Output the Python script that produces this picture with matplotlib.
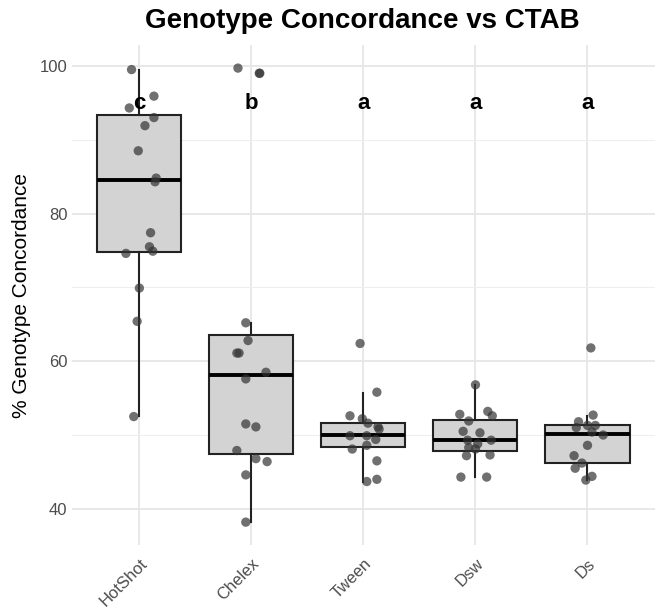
import matplotlib
matplotlib.use("Agg")
import matplotlib.pyplot as plt
import numpy as np

plt.rcParams['font.family'] = ['Liberation Sans', 'DejaVu Sans']

categories = ["HotShot", "Chelex", "Tween", "Dsw", "Ds"]
letters = ["c", "b", "a", "a", "a"]

# box statistics
q1 = [74.8, 47.4, 48.4, 47.8, 46.2]
med = [84.6, 58.1, 50.0, 49.3, 50.2]
q3 = [93.3, 63.5, 51.6, 52.1, 51.3]
whislo = [52.6, 38.2, 43.7, 44.3, 43.9]
whishi = [99.4, 65.2, 55.7, 56.8, 52.6]

# jittered observations (value, horizontal jitter offset)
hotshot_vals = [99.5, 95.9, 94.3, 93.0, 91.9, 88.5, 84.8, 84.3, 77.4, 75.5, 74.9, 74.6, 69.9, 65.4, 52.5]
hotshot_jit = [-0.07, 0.13, -0.09, 0.13, 0.05, -0.01, 0.15, 0.14, 0.10, 0.09, 0.12, -0.12, 0.0, -0.02, -0.05]
chelex_vals = [99.7, 99.0, 99.0, 65.2, 62.8, 61.1, 61.1, 58.5, 57.6, 51.5, 51.1, 47.9, 46.8, 46.4, 44.6, 38.2]
chelex_jit = [-0.12, 0.07, 0.075, -0.05, -0.03, -0.13, -0.11, 0.13, -0.05, -0.05, 0.04, -0.13, 0.04, 0.14, -0.05, -0.05]
tween_vals = [62.4, 55.8, 52.6, 52.2, 51.6, 51.1, 50.8, 49.9, 49.9, 49.4, 48.1, 48.6, 46.5, 43.7, 44.0]
tween_jit = [-0.03, 0.12, -0.12, -0.01, 0.04, 0.13, 0.14, -0.12, 0.03, 0.11, -0.10, 0.03, 0.12, 0.03, 0.12]
dsw_vals = [56.8, 52.8, 53.2, 52.6, 51.9, 50.5, 50.3, 49.3, 49.3, 48.8, 48.3, 48.1, 47.2, 47.3, 44.3, 44.3]
dsw_jit = [0.0, -0.14, 0.11, 0.15, -0.06, -0.11, 0.04, -0.07, 0.14, 0.02, -0.06, 0.0, -0.08, 0.13, -0.13, 0.10]
ds_vals = [61.8, 52.7, 51.8, 51.0, 51.3, 51.3, 50.4, 50.0, 48.6, 47.2, 46.2, 45.5, 44.4, 43.9]
ds_jit = [0.03, 0.05, -0.08, -0.10, 0.0, 0.07, 0.04, 0.14, 0.0, -0.12, -0.05, -0.11, 0.04, -0.015]

all_vals = [hotshot_vals, chelex_vals, tween_vals, dsw_vals, ds_vals]
all_jit = [hotshot_jit, chelex_jit, tween_jit, dsw_jit, ds_jit]

fig = plt.figure(figsize=(6.62, 6.11), dpi=100)
ax = fig.add_axes([0.109, 0.108, 0.880, 0.818])

positions = np.arange(1, len(categories) + 1)
stats = []
for i in range(len(categories)):
    stats.append(dict(q1=q1[i], med=med[i], q3=q3[i], whislo=whislo[i], whishi=whishi[i], fliers=[]))

ax.bxp(stats, positions=positions, widths=0.75, patch_artist=True, showfliers=False,
       showcaps=False,
       boxprops=dict(facecolor="#d3d3d3", edgecolor="#222222", linewidth=1.5),
       medianprops=dict(color="black", linewidth=2.8),
       whiskerprops=dict(color="#222222", linewidth=1.5), zorder=2)

for i, (vals, jit) in enumerate(zip(all_vals, all_jit)):
    xs = positions[i] + np.array(jit)
    ax.scatter(xs, vals, s=45, color="#333333", alpha=0.7, edgecolors="none", zorder=3)

for i, lab in enumerate(letters):
    ax.text(positions[i], 94.9, lab, ha="center", va="center", fontsize=16,
            fontweight="bold", color="black", zorder=4)

ax.set_xlim(0.4, 5.6)
ax.set_ylim(35.1, 102.8)
ax.set_yticks([40, 60, 80, 100])
ax.set_yticks([50, 70, 90], minor=True)
ax.set_xticks(positions)
ax.set_xticklabels(categories, rotation=45, ha="right", rotation_mode="anchor")
ax.tick_params(axis="both", which="both", length=0, labelsize=12, labelcolor="#4d4d4d")
ax.tick_params(axis="x", pad=8)
ax.grid(True, which="major", color="#e6e6e6", linewidth=1.3, zorder=0)
ax.grid(True, which="minor", axis="y", color="#eeeeee", linewidth=0.8, zorder=0)
ax.set_axisbelow(True)
for s in ax.spines.values():
    s.set_visible(False)

ax.set_ylabel("% Genotype Concordance", fontsize=15, color="black", labelpad=6)
fig.text(0.548, 0.966, "Genotype Concordance vs CTAB", fontsize=20, fontweight="bold",
         ha="center", va="center")

fig.savefig("out.png", dpi=100)
